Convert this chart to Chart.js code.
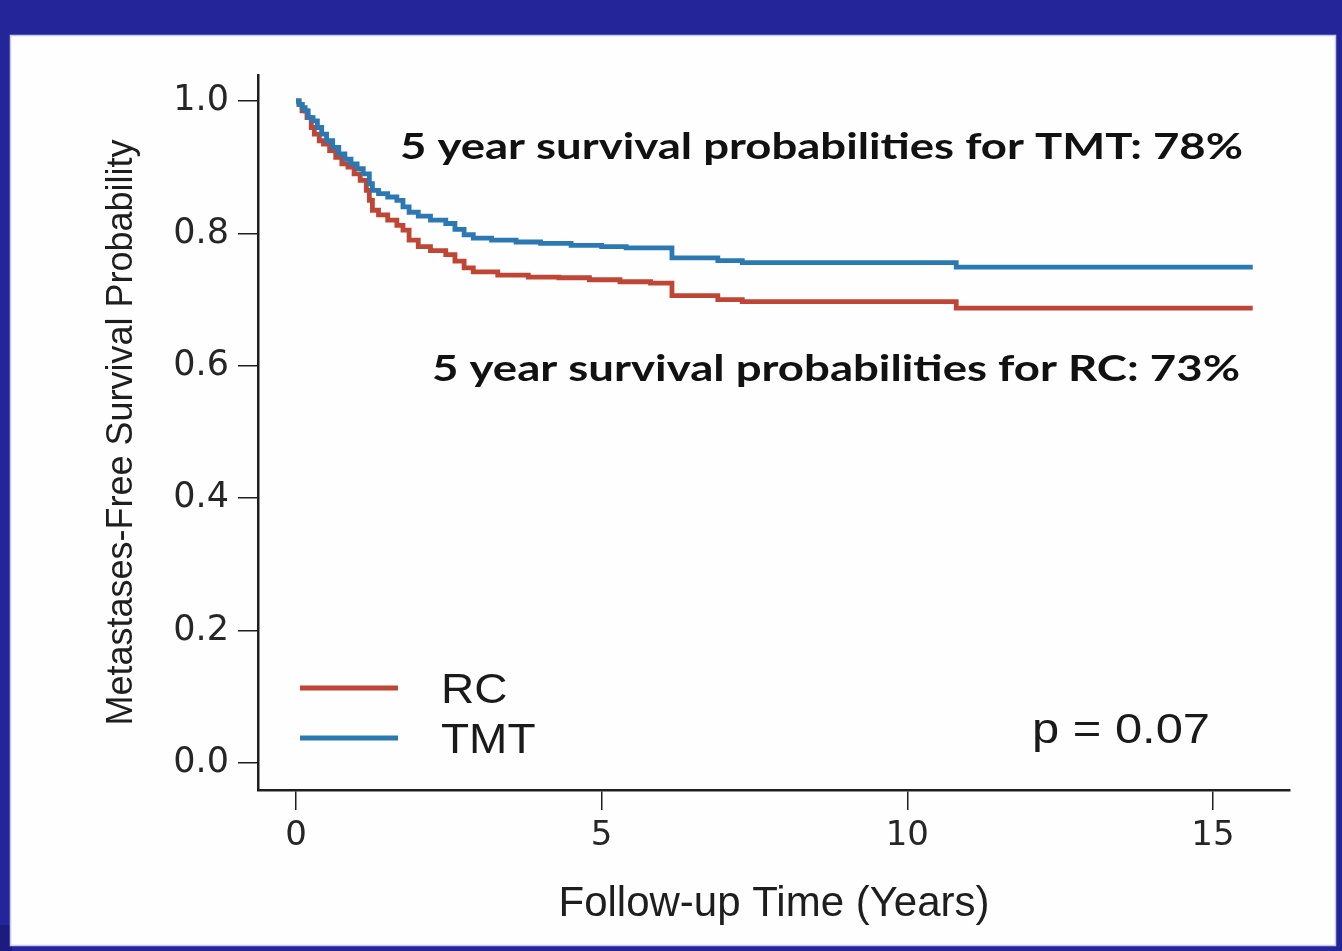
<!DOCTYPE html>
<html>
<head>
<meta charset="utf-8">
<title>Metastases-Free Survival: RC vs TMT</title>
<script src="https://cdn.jsdelivr.net/npm/chart.js@4.4.1/dist/chart.umd.min.js"></script>
<style>
  html, body { margin: 0; padding: 0; background: #25259a; }
  #wrap { width: 1342px; height: 951px; }
  canvas { display: block; }
</style>
</head>
<body>
<div id="wrap"><canvas id="km" width="1342" height="951"></canvas></div>
<script>
// Kaplan-Meier estimates (time in years, survival probability)
const groups = ['RC', 'TMT'];
const seriesColors = ['#bf4535', '#2b78b3'];

const rcTimes = [0, 0.05, 0.1, 0.18, 0.25, 0.3, 0.38, 0.45, 0.55, 0.65, 0.75, 0.85, 0.95, 1.05, 1.15, 1.2, 1.25, 1.35, 1.5, 1.65, 1.75, 1.85, 2.0, 2.2, 2.45, 2.6, 2.75, 2.9, 3.3, 3.8, 4.3, 4.8, 5.3, 5.8, 6.15, 6.9, 7.3, 10.8, 15.65];
const rcSurv  = [1.0, 0.995, 0.985, 0.975, 0.96, 0.95, 0.94, 0.935, 0.925, 0.915, 0.905, 0.9, 0.89, 0.88, 0.865, 0.85, 0.835, 0.828, 0.82, 0.812, 0.805, 0.79, 0.78, 0.774, 0.768, 0.758, 0.748, 0.742, 0.737, 0.734, 0.733, 0.73, 0.727, 0.725, 0.706, 0.7, 0.697, 0.687, 0.687];

const tmtTimes = [0, 0.05, 0.1, 0.15, 0.2, 0.28, 0.35, 0.42, 0.5, 0.6, 0.7, 0.8, 0.9, 1.0, 1.1, 1.2, 1.25, 1.35, 1.5, 1.65, 1.75, 1.85, 2.0, 2.2, 2.45, 2.6, 2.75, 2.9, 3.2, 3.6, 4.0, 4.5, 5.0, 5.4, 6.15, 6.9, 7.3, 10.8, 15.65];
const tmtSurv  = [1.0, 0.995, 0.99, 0.985, 0.975, 0.97, 0.96, 0.95, 0.94, 0.93, 0.92, 0.912, 0.905, 0.898, 0.89, 0.875, 0.865, 0.86, 0.855, 0.85, 0.84, 0.832, 0.826, 0.82, 0.815, 0.806, 0.798, 0.793, 0.79, 0.787, 0.785, 0.782, 0.78, 0.778, 0.763, 0.759, 0.756, 0.749, 0.749];

const fiveYearPct = [73, 78];
const pValueText = 'p = 0.07';

const xTickValues = [0, 5, 10, 15];
const yTickValues = [0.0, 0.2, 0.4, 0.6, 0.8, 1.0];

const toPoints = (times, surv) => times.map((t, i) => ({ x: t, y: surv[i] }));

// Draw text with a given left edge/baseline, optionally fitted to a width
function fitText(ctx, text, x, baseline, font, width, color) {
  ctx.save();
  ctx.font = font;
  ctx.fillStyle = color || '#111';
  ctx.textBaseline = 'alphabetic';
  ctx.textAlign = 'left';
  const w = ctx.measureText(text).width;
  const sx = width ? width / w : 1;
  ctx.translate(x, baseline);
  ctx.scale(sx, 1);
  ctx.fillText(text, 0, 0);
  ctx.restore();
}

// Slide-style backdrop: navy frame around a white panel
const backdrop = {
  id: 'backdrop',
  beforeDraw(chart) {
    const ctx = chart.ctx;
    ctx.save();
    ctx.fillStyle = '#25259a';
    ctx.fillRect(0, 0, chart.width, chart.height);
    ctx.fillStyle = '#1b1b80';
    ctx.fillRect(0, 925, 12, 26);
    ctx.fillStyle = '#fefeff';
    ctx.fillRect(10, 35, 1326, 911);
    ctx.strokeStyle = '#c9c9ee';
    ctx.lineWidth = 1.5;
    ctx.strokeRect(10.5, 35.5, 1325, 910);
    ctx.restore();
  }
};

// Survival summaries, legend and log-rank p value
const annotations = {
  id: 'annotations',
  afterDraw(chart) {
    const ctx = chart.ctx;
    const ds = chart.data.datasets;
    const boldFont = 'bold 37px Lato, "Open Sans", sans-serif';
    fitText(ctx, `5 year survival probabilities for ${groups[1]}: ${fiveYearPct[1]}%`, 400, 159, boldFont, 843, '#111');
    fitText(ctx, `5 year survival probabilities for ${groups[0]}: ${fiveYearPct[0]}%`, 432, 381, boldFont, 808, '#111');

    // legend (line samples + labels)
    const rows = [688, 738];
    ds.forEach((d, i) => {
      const y = rows[i];
      ctx.save();
      ctx.strokeStyle = d.borderColor;
      ctx.lineWidth = 5;
      ctx.lineCap = 'butt';
      ctx.beginPath();
      ctx.moveTo(300, y);
      ctx.lineTo(398, y);
      ctx.stroke();
      ctx.restore();
      ctx.save();
      ctx.font = '43px "Liberation Sans", Arial, sans-serif';
      const w = ctx.measureText(d.label).width;
      ctx.restore();
      fitText(ctx, d.label, 441, y + 15, '43px "Liberation Sans", Arial, sans-serif', w * 1.07, '#1a1a1a');
    });

    fitText(ctx, pValueText, 1032, 743, '42px "Liberation Sans", Arial, sans-serif', 178, '#1a1a1a');
  }
};

const axisInk = '#1e1e1e';

new Chart(document.getElementById('km'), {
  type: 'line',
  data: {
    datasets: [
      {
        label: groups[0],
        data: toPoints(rcTimes, rcSurv),
        borderColor: seriesColors[0],
        order: 1
      },
      {
        label: groups[1],
        data: toPoints(tmtTimes, tmtSurv),
        borderColor: seriesColors[1],
        order: 0
      }
    ]
  },
  options: {
    responsive: false,
    animation: false,
    devicePixelRatio: 1,
    elements: {
      // step holds each survival estimate until the next event time
      line: { stepped: 'before', borderWidth: 4.8, fill: false, borderJoinStyle: 'miter', borderCapStyle: 'butt', tension: 0 },
      point: { radius: 0, hoverRadius: 0 }
    },
    layout: { padding: { left: 0, top: 75, right: 52, bottom: 0 } },
    plugins: {
      legend: { display: false },
      tooltip: { enabled: false },
      title: { display: false }
    },
    scales: {
      x: {
        type: 'linear',
        min: -0.6216,
        max: 16.26,
        afterBuildTicks: s => { s.ticks = xTickValues.map(v => ({ value: v })); },
        afterFit: s => { s.height = 161; },
        grid: { display: true, drawOnChartArea: false, drawTicks: true, tickLength: 20, color: axisInk, lineWidth: 1.5 },
        border: { display: true, color: axisInk, width: 2.5 },
        ticks: {
          padding: 6,
          color: '#262626',
          font: { family: '"DejaVu Sans", sans-serif', size: 34 },
          callback: v => String(v),
          maxRotation: 0,
          autoSkip: false
        },
        title: {
          display: true,
          text: 'Follow-up Time (Years)',
          color: '#1e1e1e',
          font: { family: '"Liberation Sans", Arial, sans-serif', size: 42 },
          padding: { top: 0, bottom: 21 }
        }
      },
      y: {
        type: 'linear',
        min: -0.0408,
        max: 1.0393,
        afterBuildTicks: s => { s.ticks = yTickValues.map(v => ({ value: v })); },
        afterFit: s => { s.width = 258; },
        grid: { display: true, drawOnChartArea: false, drawTicks: true, tickLength: 20, color: axisInk, lineWidth: 1.5 },
        border: { display: true, color: axisInk, width: 2.5 },
        ticks: {
          padding: 9,
          color: '#262626',
          font: { family: '"DejaVu Sans", sans-serif', size: 35 },
          callback: v => Number(v).toFixed(1),
          autoSkip: false
        },
        title: {
          display: true,
          text: 'Metastases-Free Survival Probability',
          color: '#1e1e1e',
          font: { family: '"Liberation Sans", Arial, sans-serif', size: 36 },
          padding: { top: 100, bottom: 0 }
        }
      }
    }
  },
  plugins: [backdrop, annotations]
});
</script>
</body>
</html>
